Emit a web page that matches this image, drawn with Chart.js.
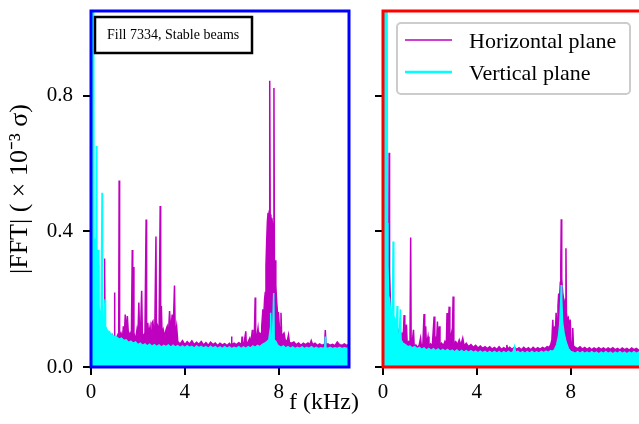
<!DOCTYPE html>
<html>
<head>
<meta charset="utf-8">
<script src="https://cdn.jsdelivr.net/npm/chart.js@4.4.0/dist/chart.umd.min.js"></script>
<style>
  html, body { margin: 0; padding: 0; background: #fff; overflow: hidden; }
  #wrap { position: relative; width: 639px; height: 424px; overflow: hidden; }
  canvas { position: absolute; top: 0; }
</style>
</head>
<body>
<div id="wrap">
  <canvas id="leftChart" width="372" height="424" style="left:0"></canvas>
  <canvas id="rightChart" width="290" height="424" style="left:366px"></canvas>
</div>
<script>
// spectra: [frequency kHz, |FFT| x1e-3 sigma]
const leftHorizontal = [
  [0.00,0.12],[0.05,0.22],[0.10,0.14],[0.16,0.20],[0.22,0.13],[0.28,0.12],[0.30,0.30],[0.32,0.12],
  [0.38,0.11],[0.44,0.12],[0.50,0.10],[0.56,0.11],[0.58,0.32],[0.60,0.10],[0.66,0.095],[0.72,0.09],
  [0.78,0.10],[0.84,0.088],[0.90,0.095],[0.96,0.085],[0.99,0.09],[1.00,0.22],[1.02,0.09],[1.08,0.085],
  [1.14,0.095],[1.18,0.09],[1.20,0.55],[1.22,0.09],[1.28,0.10],[1.34,0.085],[1.38,0.12],[1.42,0.09],
  [1.46,0.155],[1.50,0.10],[1.55,0.15],[1.60,0.09],[1.66,0.10],[1.72,0.085],[1.76,0.345],[1.78,0.14],
  [1.80,0.295],[1.83,0.10],[1.90,0.08],[1.96,0.11],[2.00,0.09],[2.04,0.19],[2.07,0.10],[2.12,0.12],
  [2.16,0.225],[2.19,0.10],[2.25,0.09],[2.30,0.10],[2.35,0.435],[2.37,0.10],[2.42,0.13],[2.46,0.095],
  [2.52,0.12],[2.56,0.09],[2.60,0.13],[2.64,0.135],[2.68,0.10],[2.72,0.11],[2.77,0.385],[2.79,0.10],
  [2.84,0.12],[2.90,0.10],[2.95,0.475],[2.97,0.10],[3.00,0.18],[3.03,0.095],[3.08,0.11],[3.14,0.09],
  [3.20,0.11],[3.25,0.12],[3.30,0.095],[3.35,0.165],[3.40,0.10],[3.46,0.155],[3.50,0.095],[3.56,0.24],
  [3.59,0.09],[3.65,0.12],[3.70,0.075],[3.80,0.068],[3.90,0.078],[4.00,0.066],[4.10,0.075],[4.20,0.068],
  [4.30,0.077],[4.40,0.066],[4.50,0.073],[4.60,0.067],[4.70,0.075],[4.80,0.065],[4.90,0.072],[5.00,0.064],
  [5.10,0.073],[5.20,0.066],[5.30,0.071],[5.40,0.063],[5.50,0.070],[5.60,0.065],[5.70,0.069],[5.80,0.063],
  [5.90,0.070],[5.97,0.065],[5.99,0.09],[6.01,0.065],[6.10,0.070],[6.20,0.066],[6.30,0.072],[6.42,0.067],
  [6.44,0.09],[6.46,0.068],[6.53,0.072],[6.60,0.105],[6.62,0.07],[6.70,0.074],[6.77,0.085],[6.82,0.07],
  [6.88,0.11],[6.90,0.074],[6.96,0.08],[7.00,0.205],[7.02,0.08],[7.07,0.09],[7.12,0.115],[7.15,0.09],
  [7.20,0.10],[7.25,0.095],[7.28,0.12],[7.33,0.17],[7.36,0.14],[7.40,0.20],[7.43,0.22],[7.46,0.30],
  [7.49,0.37],[7.52,0.43],[7.55,0.455],[7.58,0.42],[7.60,0.46],[7.62,0.844],[7.64,0.44],[7.67,0.45],
  [7.69,0.30],[7.71,0.44],[7.74,0.42],[7.77,0.38],[7.80,0.823],[7.82,0.30],[7.85,0.315],[7.88,0.24],
  [7.91,0.20],[7.95,0.16],[7.99,0.16],[8.03,0.12],[8.07,0.10],[8.10,0.16],[8.13,0.09],[8.18,0.095],
  [8.23,0.10],[8.28,0.08],[8.36,0.075],[8.42,0.095],[8.46,0.072],[8.55,0.070],[8.65,0.074],[8.75,0.066],
  [8.85,0.071],[8.95,0.064],[9.05,0.070],[9.15,0.066],[9.25,0.071],[9.33,0.066],[9.39,0.078],[9.45,0.066],
  [9.55,0.070],[9.65,0.064],[9.75,0.068],[9.85,0.064],[9.96,0.067],[9.99,0.109],[10.02,0.066],[10.10,0.068],
  [10.20,0.064],[10.30,0.067],[10.40,0.063],[10.50,0.074],[10.60,0.066],[10.70,0.064],[10.80,0.068],
  [10.90,0.064],[11.00,0.066]
];
const leftVertical = [
  [0.00,1.20],[0.11,1.20],[0.13,0.30],[0.17,0.38],[0.21,0.25],[0.23,0.652],[0.25,0.22],[0.29,0.20],
  [0.31,0.345],[0.33,0.18],[0.38,0.16],[0.43,0.15],[0.47,0.514],[0.49,0.14],[0.54,0.13],[0.60,0.20],
  [0.62,0.12],[0.68,0.11],[0.75,0.105],[0.82,0.10],[0.90,0.095],[1.00,0.09],[1.10,0.088],[1.20,0.082],
  [1.30,0.085],[1.40,0.078],[1.50,0.080],[1.60,0.072],[1.70,0.076],[1.80,0.070],[1.90,0.074],[2.00,0.066],
  [2.10,0.070],[2.20,0.064],[2.30,0.068],[2.40,0.062],[2.50,0.067],[2.60,0.061],[2.70,0.066],[2.80,0.060],
  [2.90,0.065],[3.00,0.059],[3.10,0.064],[3.20,0.060],[3.30,0.065],[3.40,0.058],[3.50,0.064],[3.60,0.059],
  [3.70,0.063],[3.80,0.058],[3.90,0.062],[4.00,0.057],[4.10,0.063],[4.20,0.058],[4.30,0.061],[4.40,0.056],
  [4.50,0.062],[4.60,0.057],[4.70,0.061],[4.80,0.056],[4.90,0.060],[5.00,0.055],[5.10,0.061],[5.20,0.056],
  [5.30,0.060],[5.40,0.055],[5.50,0.059],[5.60,0.054],[5.70,0.060],[5.80,0.055],[5.90,0.059],[6.00,0.054],
  [6.10,0.058],[6.20,0.055],[6.30,0.060],[6.40,0.054],[6.50,0.059],[6.60,0.055],[6.70,0.060],[6.80,0.056],
  [6.90,0.062],[7.00,0.058],[7.10,0.064],[7.20,0.060],[7.30,0.066],[7.40,0.070],[7.50,0.075],[7.58,0.080],
  [7.62,0.10],[7.64,0.08],[7.66,0.16],[7.68,0.085],[7.74,0.09],[7.79,0.218],[7.81,0.08],[7.88,0.075],
  [7.95,0.066],[8.00,0.062],[8.10,0.058],[8.20,0.062],[8.30,0.056],[8.40,0.060],[8.50,0.055],[8.60,0.059],
  [8.70,0.054],[8.80,0.058],[8.90,0.055],[9.00,0.059],[9.10,0.054],[9.20,0.058],[9.30,0.055],[9.40,0.060],
  [9.50,0.054],[9.60,0.058],[9.70,0.054],[9.80,0.057],[9.90,0.055],[9.97,0.058],[9.99,0.09],[10.01,0.057],
  [10.10,0.055],[10.20,0.058],[10.30,0.054],[10.40,0.057],[10.50,0.055],[10.60,0.058],[10.70,0.054],
  [10.80,0.057],[10.90,0.055],[11.00,0.056]
];
const rightHorizontal = [
  [0.00,0.15],[0.10,0.20],[0.18,0.30],[0.22,0.42],[0.24,0.30],[0.26,0.632],[0.28,0.28],[0.33,0.16],
  [0.40,0.13],[0.48,0.12],[0.56,0.10],[0.64,0.11],[0.72,0.095],[0.80,0.10],[0.86,0.085],[0.90,0.153],
  [0.93,0.08],[0.97,0.09],[1.00,0.125],[1.03,0.07],[1.09,0.075],[1.15,0.068],[1.18,0.382],[1.20,0.07],
  [1.25,0.075],[1.30,0.11],[1.33,0.06],[1.40,0.065],[1.47,0.058],[1.54,0.064],[1.60,0.085],[1.64,0.06],
  [1.70,0.068],[1.75,0.156],[1.78,0.068],[1.82,0.12],[1.85,0.064],[1.92,0.09],[1.96,0.06],[2.03,0.068],
  [2.10,0.06],[2.18,0.149],[2.21,0.066],[2.25,0.09],[2.28,0.062],[2.32,0.134],[2.35,0.066],[2.40,0.12],
  [2.43,0.062],[2.50,0.07],[2.57,0.062],[2.64,0.075],[2.70,0.066],[2.73,0.159],[2.76,0.075],[2.82,0.178],
  [2.85,0.075],[2.92,0.10],[2.95,0.07],[2.99,0.208],[3.02,0.068],[3.10,0.075],[3.18,0.066],[3.25,0.08],
  [3.32,0.064],[3.40,0.085],[3.46,0.062],[3.55,0.07],[3.65,0.06],[3.75,0.066],[3.85,0.058],[3.95,0.064],
  [4.05,0.056],[4.15,0.062],[4.25,0.055],[4.35,0.06],[4.45,0.054],[4.55,0.06],[4.65,0.053],[4.75,0.058],
  [4.85,0.052],[4.95,0.06],[5.05,0.052],[5.15,0.057],[5.25,0.053],[5.28,0.065],[5.31,0.053],[5.40,0.058],
  [5.50,0.052],[5.60,0.058],[5.70,0.052],[5.80,0.057],[5.90,0.051],[6.00,0.058],[6.10,0.052],[6.20,0.057],
  [6.30,0.051],[6.40,0.058],[6.50,0.052],[6.60,0.057],[6.70,0.053],[6.80,0.058],[6.90,0.054],[7.00,0.06],
  [7.08,0.058],[7.15,0.066],[7.20,0.08],[7.24,0.139],[7.27,0.08],[7.32,0.12],[7.35,0.10],[7.38,0.16],
  [7.42,0.12],[7.46,0.18],[7.49,0.217],[7.52,0.19],[7.56,0.25],[7.58,0.30],[7.60,0.436],[7.62,0.26],
  [7.66,0.22],[7.70,0.20],[7.74,0.17],[7.78,0.20],[7.80,0.35],[7.82,0.16],[7.86,0.14],[7.90,0.145],
  [7.94,0.11],[7.98,0.14],[8.02,0.075],[8.06,0.07],[8.09,0.115],[8.12,0.062],[8.20,0.058],[8.30,0.054],
  [8.40,0.06],[8.50,0.053],[8.60,0.058],[8.70,0.052],[8.80,0.057],[8.90,0.051],[9.00,0.056],[9.10,0.052],
  [9.20,0.057],[9.30,0.052],[9.40,0.056],[9.50,0.051],[9.60,0.056],[9.70,0.052],[9.80,0.057],[9.90,0.051],
  [10.00,0.055],[10.10,0.05],[10.20,0.056],[10.30,0.051],[10.40,0.055],[10.50,0.05],[10.60,0.056],
  [10.70,0.051],[10.80,0.055],[10.90,0.05],[11.00,0.054]
];
const rightVertical = [
  [0.00,1.20],[0.17,1.20],[0.19,0.425],[0.21,0.30],[0.24,0.21],[0.28,0.20],[0.34,0.15],[0.40,0.14],
  [0.43,0.37],[0.46,0.15],[0.52,0.14],[0.58,0.13],[0.60,0.18],[0.63,0.10],[0.69,0.09],[0.74,0.17],
  [0.77,0.08],[0.85,0.07],[0.95,0.066],[1.05,0.06],[1.15,0.062],[1.25,0.056],[1.35,0.06],[1.45,0.054],
  [1.55,0.058],[1.65,0.052],[1.75,0.056],[1.85,0.05],[1.95,0.055],[2.05,0.049],[2.15,0.054],[2.25,0.048],
  [2.35,0.053],[2.45,0.047],[2.55,0.052],[2.65,0.047],[2.75,0.052],[2.85,0.046],[2.95,0.05],[3.05,0.045],
  [3.15,0.05],[3.25,0.044],[3.35,0.049],[3.45,0.044],[3.55,0.048],[3.65,0.043],[3.75,0.048],[3.85,0.043],
  [3.95,0.047],[4.05,0.042],[4.15,0.047],[4.25,0.042],[4.35,0.046],[4.45,0.041],[4.55,0.046],[4.65,0.041],
  [4.75,0.046],[4.85,0.041],[4.95,0.045],[5.05,0.04],[5.15,0.045],[5.25,0.041],[5.35,0.046],[5.45,0.041],
  [5.55,0.045],[5.61,0.06],[5.65,0.042],[5.75,0.046],[5.85,0.041],[5.95,0.045],[6.05,0.04],[6.15,0.045],
  [6.25,0.041],[6.35,0.046],[6.45,0.041],[6.55,0.045],[6.65,0.041],[6.75,0.046],[6.85,0.042],[6.95,0.047],
  [7.05,0.043],[7.15,0.048],[7.22,0.046],[7.30,0.05],[7.40,0.065],[7.48,0.09],[7.54,0.13],[7.58,0.20],
  [7.60,0.242],[7.62,0.20],[7.66,0.13],[7.72,0.10],[7.80,0.075],[7.90,0.055],[8.00,0.046],[8.10,0.044],
  [8.20,0.04],[8.30,0.045],[8.40,0.04],[8.50,0.045],[8.60,0.04],[8.70,0.044],[8.80,0.04],[8.90,0.045],
  [9.00,0.04],[9.10,0.044],[9.20,0.039],[9.30,0.044],[9.40,0.04],[9.50,0.045],[9.60,0.04],[9.70,0.044],
  [9.80,0.039],[9.90,0.044],[10.00,0.04],[10.10,0.045],[10.20,0.04],[10.30,0.044],[10.40,0.039],
  [10.50,0.044],[10.60,0.04],[10.70,0.045],[10.80,0.04],[10.90,0.044],[11.00,0.04]
];

const xTicks = [0, 4, 8];
const xTickLabels = ['0', '4', '8'];
const yTicks = [0, 0.4, 0.8];
const yTickLabels = ['0.0', '0.4', '0.8'];
const seriesNames = ['Horizontal plane', 'Vertical plane'];
const seriesColors = ['#bf00bf', '#00ffff'];
const annotationText = 'Fill 7334, Stable beams';
const yTitle = '|FFT| ( \u00d7 10\u207b\u00b3 \u03c3)';
const xTitle = 'f (kHz)';

const SERIF = "'Liberation Serif', 'Times New Roman', serif";
Chart.defaults.font.family = SERIF;
Chart.defaults.color = '#000';

const toPoints = arr => arr.map(([x, y]) => ({ x, y }));

function datasets(h, v) {
  return [
    { label: seriesNames[0], data: toPoints(h), borderColor: seriesColors[0], backgroundColor: seriesColors[0],
      borderWidth: 1.5, fill: 'origin', order: 1, clip: 0 },
    { label: seriesNames[1], data: toPoints(v), borderColor: seriesColors[1], backgroundColor: seriesColors[1],
      borderWidth: 1.5, fill: 'origin', order: 0, clip: 0 }
  ];
}

function xScale() {
  return {
    type: 'linear', min: 0, max: 11,
    afterBuildTicks: s => { s.ticks = xTicks.map(v => ({ value: v })); },
    afterFit: s => { s.height = 57; s.paddingLeft = 0; s.paddingRight = 0; },
    ticks: { font: { size: 21 }, color: '#000', padding: 5, maxRotation: 0, autoSkip: false,
      callback: (v, i) => xTickLabels[i] },
    grid: { drawOnChartArea: false, tickLength: 8, color: '#000', lineWidth: 2 },
    border: { display: false }
  };
}

function yScale(width, showLabels) {
  return {
    type: 'linear', min: 0, max: 1.05,
    afterBuildTicks: s => { s.ticks = yTicks.map(v => ({ value: v })); },
    afterFit: s => { s.width = width; s.paddingTop = 0; s.paddingBottom = 0; },
    ticks: { display: showLabels, font: { size: 21 }, color: '#000', padding: 10,
      callback: (v, i) => yTickLabels[i] },
    title: { display: showLabels, text: yTitle, font: { size: 26 }, color: '#000', padding: { top: 5, bottom: 0 } },
    grid: { drawOnChartArea: false, tickLength: 8, color: '#000', lineWidth: 2 },
    border: { display: false }
  };
}

const framePlugin = {
  id: 'frame',
  afterDatasetsDraw(chart, args, opts) {
    const { ctx, chartArea: a } = chart;
    ctx.save();
    ctx.strokeStyle = opts.color;
    ctx.lineWidth = 3;
    ctx.strokeRect(a.left, a.top, a.right - a.left, a.bottom - a.top);
    ctx.restore();
  }
};

// text box top-left of the left panel and the shared x title
const leftExtras = {
  id: 'leftExtras',
  afterDraw(chart) {
    const ctx = chart.ctx;
    ctx.save();
    ctx.fillStyle = '#fff';
    ctx.fillRect(95, 17, 157, 36);
    ctx.strokeStyle = '#000';
    ctx.lineWidth = 2.5;
    ctx.strokeRect(95, 17, 157, 36);
    ctx.fillStyle = '#000';
    ctx.font = '14px ' + SERIF;
    ctx.textBaseline = 'alphabetic';
    ctx.fillText(annotationText, 107, 39);
    ctx.font = '24px ' + SERIF;
    ctx.textAlign = 'center';
    ctx.fillText(xTitle, 324, 409);
    ctx.restore();
  }
};

// legend box inside the right panel
const rightLegend = {
  id: 'rightLegend',
  afterDraw(chart) {
    const ctx = chart.ctx;
    const x0 = 31, y0 = 23, w = 233, h = 71;
    ctx.save();
    ctx.beginPath();
    ctx.roundRect(x0, y0, w, h, 4);
    ctx.fillStyle = 'rgba(255,255,255,0.8)';
    ctx.fill();
    ctx.strokeStyle = '#cccccc';
    ctx.lineWidth = 2;
    ctx.stroke();
    ctx.font = '22px ' + SERIF;
    ctx.textBaseline = 'alphabetic';
    seriesNames.forEach((name, i) => {
      const y = 40 + i * 32;
      ctx.beginPath();
      ctx.moveTo(39, y);
      ctx.lineTo(86, y);
      ctx.strokeStyle = seriesColors[i];
      ctx.lineWidth = i === 0 ? 1.5 : 2.5;
      ctx.stroke();
      ctx.fillStyle = '#000';
      ctx.fillText(name, 103, y + 7.5);
    });
    ctx.restore();
  }
};

function baseOptions(frameColor, yWidth, showY, padRight) {
  return {
    responsive: false,
    animation: false,
    elements: { point: { radius: 0 }, line: { tension: 0 } },
    layout: { autoPadding: false, padding: { left: 0, top: 11, right: padRight, bottom: 0 } },
    plugins: { legend: { display: false }, tooltip: { enabled: false }, frame: { color: frameColor } },
    scales: { x: xScale(), y: yScale(yWidth, showY) }
  };
}

new Chart(document.getElementById('leftChart'), {
  type: 'line',
  data: { datasets: datasets(leftHorizontal, leftVertical) },
  options: baseOptions('#0000ff', 91, true, 23),
  plugins: [framePlugin, leftExtras]
});

new Chart(document.getElementById('rightChart'), {
  type: 'line',
  data: { datasets: datasets(rightHorizontal, rightVertical) },
  options: baseOptions('#ff0000', 17, false, 15),
  plugins: [framePlugin, rightLegend]
});
</script>
</body>
</html>
